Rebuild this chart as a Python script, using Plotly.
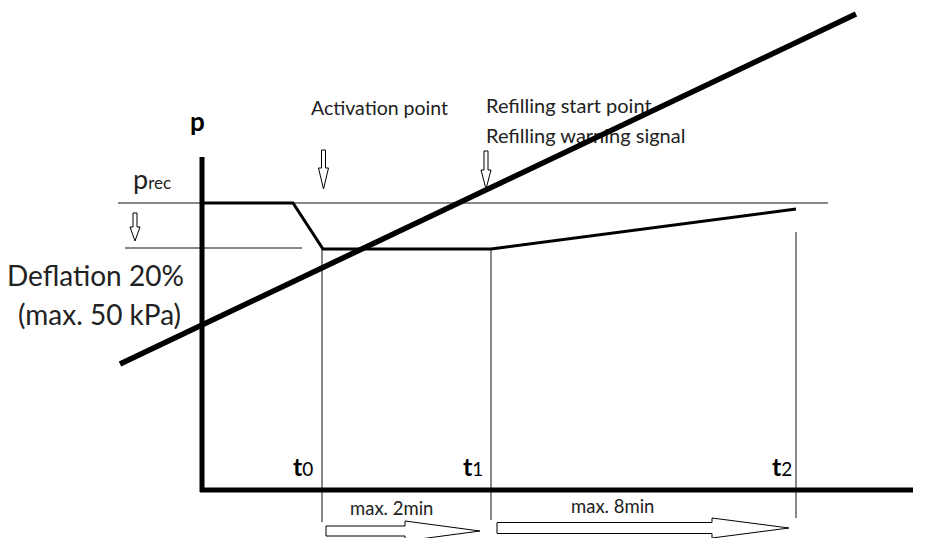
import plotly.graph_objects as go

W, H = 935, 538
OFF = 8  # page body margin compensation
FONT = "Lato"

# ---- diagram values (x: time position, y: pressure position; y grows downward) ----
curve_t = [202, 293, 323, 491, 796]          # pressure curve breakpoints
curve_p = [203, 203, 249, 249, 209]

p_rec_level = 203                            # recommended pressure line
p_rec_span = [118, 828]
p_defl_level = 248                           # deflated pressure line
p_defl_span = [125, 302]

t_marks = [322, 491, 796]                    # t0, t1, t2
t_names = ["0", "1", "2"]
t_label_x = [303, 473, 782]
t_label_y = 466
t_mark_top = [249, 250, 232]
t_mark_bottom = [522, 520, 518]

axis_origin = [202, 490]
axis_x_end = 913
axis_y_top = 157

diag_t = [120, 856]                          # reference diagonal
diag_p = [364, 14]

durations = ["max. 2min", "max. 8min"]
duration_x = [391, 612]
duration_y = [508, 506]

# big hollow arrows along time axis: start, head start, tip, centre y, body/head half-height
big_arrows = [
    dict(x0=326, xh=405, tip=480, yc=531, bh=5, hh=10),
    dict(x0=497, xh=712, tip=789, yc=528, bh=5.5, hh=10),
]
# small hollow down arrows: centre x, top, head start, tip
small_arrows = [
    dict(xc=323.5, top=150, yh=168, tip=189),
    dict(xc=486, top=151, yh=170, tip=189),
    dict(xc=135, top=213, yh=227, tip=241),
]

fig = go.Figure()

# texts partially covered by diagonal (drawn first as traces)
fig.add_trace(go.Scatter(
    x=[486, 486], y=[108, 138], mode="text",
    text=["Refilling start point", "Refilling warning signal"],
    textposition="middle right", textfont=dict(family=FONT, size=20, color="#222"),
    hoverinfo="skip"))

# thin reference lines
fig.add_trace(go.Scatter(x=p_rec_span, y=[p_rec_level] * 2, mode="lines",
                         line=dict(color="#111", width=1), hoverinfo="skip"))
fig.add_trace(go.Scatter(x=p_defl_span, y=[p_defl_level] * 2, mode="lines",
                         line=dict(color="#111", width=1), hoverinfo="skip"))
for xm, yt, yb in zip(t_marks, t_mark_top, t_mark_bottom):
    fig.add_trace(go.Scatter(x=[xm, xm], y=[yt, yb], mode="lines",
                             line=dict(color="#111", width=1), hoverinfo="skip"))

# axes
fig.add_trace(go.Scatter(x=[axis_origin[0], axis_origin[0]], y=[axis_y_top, axis_origin[1] + 2],
                         mode="lines", line=dict(color="black", width=5), hoverinfo="skip"))
fig.add_trace(go.Scatter(x=[axis_origin[0] - 2, axis_x_end], y=[axis_origin[1], axis_origin[1]],
                         mode="lines", line=dict(color="black", width=5), hoverinfo="skip"))

# pressure curve
fig.add_trace(go.Scatter(x=curve_t, y=curve_p, mode="lines",
                         line=dict(color="black", width=3), hoverinfo="skip"))

# diagonal
fig.add_trace(go.Scatter(x=diag_t, y=diag_p, mode="lines",
                         line=dict(color="black", width=5.5), hoverinfo="skip"))

shapes = []
for a in big_arrows:
    yc, bh, hh = a["yc"], a["bh"], a["hh"]
    path = (f"M {a['x0']},{yc - bh} L {a['xh']},{yc - bh} L {a['xh']},{yc - hh} "
            f"L {a['tip']},{yc} L {a['xh']},{yc + hh} L {a['xh']},{yc + bh} "
            f"L {a['x0']},{yc + bh} Z")
    shapes.append(dict(type="path", path=path, xref="x", yref="y",
                       line=dict(color="black", width=1), fillcolor="white"))
for a in small_arrows:
    xc = a["xc"]
    path = (f"M {xc - 2},{a['top']} L {xc + 2},{a['top']} L {xc + 2},{a['yh']} "
            f"L {xc + 5},{a['yh']} L {xc},{a['tip']} L {xc - 5},{a['yh']} "
            f"L {xc - 2},{a['yh']} Z")
    shapes.append(dict(type="path", path=path, xref="x", yref="y",
                       line=dict(color="black", width=1), fillcolor="white"))

ann = []
def txt(x, y, s, size, anchor="left", color="#222"):
    ann.append(dict(x=x, y=y, xref="x", yref="y", text=s, showarrow=False,
                    xanchor=anchor, yanchor="middle",
                    font=dict(family=FONT, size=size, color=color)))

txt(309, 107, "Activation point", 19.5)
txt(197, 121, "<b>p</b>", 26, "center", "black")
txt(131, 178, "p<span style='font-size:17px'>rec</span>", 27)
txt(95, 275, "Deflation 20%", 28, "center")
txt(99, 314, "(max. 50 kPa)", 28, "center")
for xl, nm in zip(t_label_x, t_names):
    txt(xl, t_label_y, f"<b>t</b><span style='font-size:19px'>{nm}</span>", 25, "center", "black")
txt(926, 490, "<b>t</b>", 25, "left", "black")
for xd, yd, s in zip(duration_x, duration_y, durations):
    txt(xd, yd, s, 18.5, "center")

fig.update_layout(
    width=W - OFF, height=H - OFF, margin=dict(l=0, r=0, t=0, b=0),
    paper_bgcolor="white", plot_bgcolor="white", showlegend=False,
    xaxis=dict(range=[OFF, W], visible=False, fixedrange=True),
    yaxis=dict(range=[H, OFF], visible=False, fixedrange=True),
    shapes=shapes, annotations=ann,
)

fig.write_html("out.html")
